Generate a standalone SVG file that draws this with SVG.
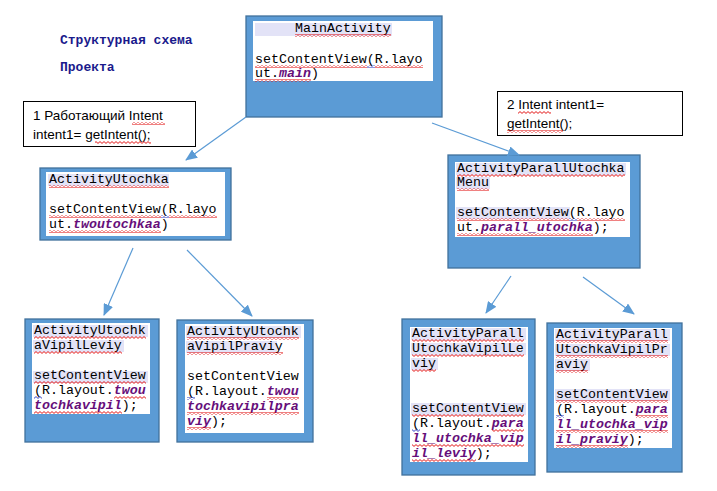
<svg xmlns="http://www.w3.org/2000/svg" width="717" height="491" viewBox="0 0 717 491">
<style>
.box{fill:#5b9bd5;stroke:#41719c;stroke-width:1.3}
.inner{fill:#ffffff}
.hl{fill:#e3e3f7}
.code{font-family:"Liberation Mono","DejaVu Sans Mono",monospace;font-size:13.3px;fill:#000}
.kw{font-weight:bold;font-style:italic;fill:#660e7a}
.note{fill:#fff;stroke:#000;stroke-width:1}
.nt{font-family:"Liberation Sans","Noto Sans",sans-serif;font-size:13.5px;fill:#000}
.title{font-family:"Liberation Mono",monospace;font-size:13px;font-weight:bold;fill:#1a1a8c}
.sq{fill:url(#sq)}
.bq{fill:url(#bq)}
.conn line{stroke:#5b9bd5;stroke-width:1.2;marker-end:url(#ah)}
</style>
<defs>
<pattern id="sq" width="4" height="3" patternUnits="userSpaceOnUse"><path d="M0 0.6 L2 2.4 L4 0.6" fill="none" stroke="#e00000" stroke-width="0.9"/></pattern>
<pattern id="bq" width="4" height="3" patternUnits="userSpaceOnUse"><path d="M0 0.6 L2 2.4 L4 0.6" fill="none" stroke="#2030c0" stroke-width="0.9"/></pattern>
<marker id="ah" markerWidth="12" markerHeight="10" refX="11" refY="5" orient="auto" markerUnits="userSpaceOnUse"><path d="M0 0 L12 5 L0 10 Z" fill="#5b9bd5"/></marker>
</defs>
<rect width="717" height="491" fill="#ffffff"/>

<g id="title">
<text class="title" x="60" y="44">Структурная схема</text>
<text class="title" x="60" y="71">Проекта</text>
</g>

<g id="note1">
<rect class="note" x="23.5" y="101.5" width="172" height="45"/>
<text class="nt" x="33" y="120">1 Работающий Intent</text>
<text class="nt" x="33" y="139">intent1= getIntent();</text>
<rect class="sq" x="132" y="122" width="33" height="3"/>
<rect class="sq" x="95" y="141" width="56" height="3"/>
</g>

<g id="note2">
<rect class="note" x="497.5" y="91.5" width="185" height="44"/>
<text class="nt" x="507" y="109">2 Intent intent1=</text>
<text class="nt" x="507" y="128">getIntent();</text>
<rect class="sq" x="518" y="111" width="33" height="3"/>
<rect class="sq" x="507" y="130" width="56" height="3"/>
</g>

<g id="MainActivity">
<rect class="box" x="246" y="16" width="196" height="101"/>
<rect class="inner" x="253" y="21" width="180" height="60"/>
<rect class="hl" x="255" y="23" width="137" height="13"/>
<text class="code" x="295" y="32">MainActivity</text>
<text class="code" x="255" y="63">setContentView(R.layo</text>
<text class="code" x="255" y="77">ut.<tspan class="kw">main</tspan>)</text>
<rect class="sq" x="295" y="34" width="96" height="3"/>
<rect class="sq" x="255" y="65" width="112" height="3"/>
<rect class="bq" x="367" y="65" width="8" height="3"/>
<rect class="sq" x="375" y="65" width="48" height="3"/>
<rect class="sq" x="255" y="79" width="56" height="3"/>
</g>

<g id="ActivityUtochka">
<rect class="box" x="40" y="168" width="191" height="72"/>
<rect class="inner" x="46" y="172" width="179" height="64"/>
<rect class="hl" x="48" y="174" width="121" height="12"/>
<text class="code" x="49" y="183">ActivityUtochka</text>
<text class="code" x="49" y="213">setContentView(R.layo</text>
<text class="code" x="49" y="228">ut.<tspan class="kw">twoutochkaa</tspan>)</text>
<rect class="sq" x="49" y="185" width="120" height="3"/>
<rect class="sq" x="49" y="215" width="112" height="3"/>
<rect class="bq" x="161" y="215" width="8" height="3"/>
<rect class="sq" x="169" y="215" width="48" height="3"/>
<rect class="sq" x="49" y="230" width="112" height="3"/>
</g>

<g id="ActivityParallUtochkaMenu">
<rect class="box" x="448" y="155" width="192" height="113"/>
<rect class="inner" x="455" y="162" width="175" height="75"/>
<rect class="hl" x="456" y="163" width="170" height="12"/>
<rect class="hl" x="456" y="177" width="34" height="12"/>
<rect class="hl" x="456" y="207" width="114" height="12"/>
<text class="code" x="457" y="172">ActivityParallUtochka</text>
<text class="code" x="457" y="186">Menu</text>
<text class="code" x="457" y="216">setContentView(R.layo</text>
<text class="code" x="457" y="231">ut.<tspan class="kw">parall_utochka</tspan>);</text>
<rect class="sq" x="457" y="174" width="168" height="3"/>
<rect class="sq" x="457" y="188" width="32" height="3"/>
<rect class="sq" x="457" y="218" width="112" height="3"/>
<rect class="bq" x="569" y="218" width="8" height="3"/>
<rect class="sq" x="577" y="218" width="48" height="3"/>
<rect class="sq" x="457" y="233" width="136" height="3"/>
</g>

<g id="ActivityUtochkaVipilLeviy">
<rect class="box" x="25" y="319" width="134" height="123"/>
<rect class="inner" x="32" y="323" width="118" height="91"/>
<rect class="hl" x="33" y="325" width="115" height="12"/>
<rect class="hl" x="33" y="340" width="91" height="12"/>
<rect class="hl" x="33" y="371" width="115" height="12"/>
<text class="code" x="34" y="334">ActivityUtochk</text>
<text class="code" x="34" y="349">aVipilLeviy</text>
<text class="code" x="34" y="379">setContentView</text>
<text class="code" x="34" y="394">(R.layout.<tspan class="kw">twou</tspan></text>
<text class="code" x="34" y="409"><tspan class="kw">tochkavipil</tspan>);</text>
<rect class="sq" x="34" y="336" width="112" height="3"/>
<rect class="sq" x="34" y="351" width="88" height="3"/>
<rect class="sq" x="34" y="381" width="112" height="3"/>
<rect class="bq" x="34" y="396" width="8" height="3"/>
<rect class="sq" x="114" y="396" width="32" height="3"/>
<rect class="sq" x="34" y="411" width="88" height="3"/>
</g>

<g id="ActivityUtochkaVipilPraviy">
<rect class="box" x="177" y="320" width="136" height="122"/>
<rect class="inner" x="185" y="324" width="119" height="109"/>
<rect class="hl" x="186" y="326" width="115" height="12"/>
<rect class="hl" x="186" y="341" width="91" height="12"/>
<text class="code" x="187" y="335">ActivityUtochk</text>
<text class="code" x="187" y="350">aVipilPraviy</text>
<text class="code" x="187" y="380">setContentView</text>
<text class="code" x="187" y="395">(R.layout.<tspan class="kw">twou</tspan></text>
<text class="code" x="187" y="410"><tspan class="kw">tochkavipilpra</tspan></text>
<text class="code" x="187" y="425"><tspan class="kw">viy</tspan>);</text>
<rect class="sq" x="187" y="337" width="112" height="3"/>
<rect class="sq" x="187" y="352" width="96" height="3"/>
<rect class="bq" x="187" y="397" width="8" height="3"/>
<rect class="sq" x="267" y="397" width="32" height="3"/>
<rect class="sq" x="187" y="412" width="112" height="3"/>
<rect class="sq" x="187" y="427" width="24" height="3"/>
</g>

<g id="ActivityParallUtochkaVipilLeviy">
<rect class="box" x="402" y="319" width="133" height="156"/>
<rect class="inner" x="410" y="327" width="118" height="135"/>
<rect class="hl" x="411" y="328" width="115" height="12"/>
<rect class="hl" x="411" y="343" width="115" height="12"/>
<rect class="hl" x="411" y="358" width="27" height="12"/>
<rect class="hl" x="411" y="403" width="115" height="12"/>
<text class="code" x="412" y="337">ActivityParall</text>
<text class="code" x="412" y="352">UtochkaVipilLe</text>
<text class="code" x="412" y="367">viy</text>
<text class="code" x="412" y="412">setContentView</text>
<text class="code" x="412" y="427">(R.layout.<tspan class="kw">para</tspan></text>
<text class="code" x="412" y="442"><tspan class="kw">ll_utochka_vip</tspan></text>
<text class="code" x="412" y="457"><tspan class="kw">il_leviy</tspan>);</text>
<rect class="sq" x="412" y="339" width="112" height="3"/>
<rect class="sq" x="412" y="354" width="112" height="3"/>
<rect class="sq" x="412" y="369" width="24" height="3"/>
<rect class="sq" x="412" y="414" width="112" height="3"/>
<rect class="bq" x="412" y="429" width="8" height="3"/>
<rect class="sq" x="492" y="429" width="32" height="3"/>
<rect class="sq" x="412" y="444" width="112" height="3"/>
<rect class="sq" x="412" y="459" width="64" height="3"/>
</g>

<g id="ActivityParallUtochkaVipilPraviy">
<rect class="box" x="547" y="323" width="135" height="149"/>
<rect class="inner" x="554" y="328" width="118" height="120"/>
<rect class="hl" x="555" y="329" width="115" height="12"/>
<rect class="hl" x="555" y="344" width="115" height="12"/>
<rect class="hl" x="555" y="359" width="35" height="12"/>
<rect class="hl" x="555" y="389" width="115" height="12"/>
<text class="code" x="556" y="338">ActivityParall</text>
<text class="code" x="556" y="353">UtochkaVipilPr</text>
<text class="code" x="556" y="368">aviy</text>
<text class="code" x="556" y="398">setContentView</text>
<text class="code" x="556" y="413">(R.layout.<tspan class="kw">para</tspan></text>
<text class="code" x="556" y="428"><tspan class="kw">ll_utochka_vip</tspan></text>
<text class="code" x="556" y="443"><tspan class="kw">il_praviy</tspan>);</text>
<rect class="sq" x="556" y="340" width="112" height="3"/>
<rect class="sq" x="556" y="355" width="112" height="3"/>
<rect class="sq" x="556" y="370" width="32" height="3"/>
<rect class="sq" x="556" y="400" width="112" height="3"/>
<rect class="bq" x="556" y="415" width="8" height="3"/>
<rect class="sq" x="636" y="415" width="32" height="3"/>
<rect class="sq" x="556" y="430" width="112" height="3"/>
<rect class="sq" x="556" y="445" width="72" height="3"/>
</g>

<g id="connectors" class="conn">
<line x1="246" y1="117" x2="186" y2="160"/>
<line x1="432" y1="123" x2="519" y2="155"/>
<line x1="133" y1="248" x2="104" y2="315"/>
<line x1="187" y1="250" x2="252" y2="316"/>
<line x1="511" y1="276" x2="486" y2="313"/>
<line x1="583" y1="277" x2="634" y2="314"/>
</g>
</svg>
